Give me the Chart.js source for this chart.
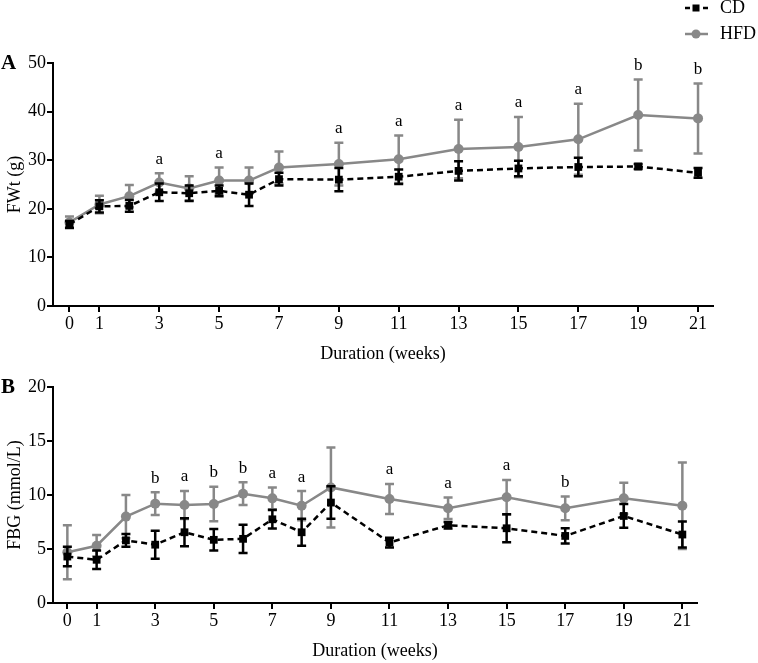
<!DOCTYPE html>
<html>
<head>
<meta charset="utf-8">
<script src="https://cdn.jsdelivr.net/npm/chart.js@4.4.0/dist/chart.umd.min.js"></script>
<style>
  body { margin: 0; background: #fff; }
  #wrap { position: relative; width: 758px; height: 663px; }
  canvas { position: absolute; left: 0; }
</style>
</head>
<body>
<div id="wrap">
  <canvas id="chartA" width="758" height="370" style="top:0"></canvas>
  <canvas id="chartB" width="758" height="293" style="top:370px"></canvas>
</div>
<script>
// week ticks shown on both x axes
const tickWeeks = [0, 1, 3, 5, 7, 9, 11, 13, 15, 17, 19, 21];

// Panel A - body weight (g)
const weeksA = [0, 1, 2, 3, 4, 5, 6, 7, 9, 11, 13, 15, 17, 19, 21];
const cdA = [16.8, 20.5, 20.6, 23.4, 23.2, 23.7, 22.9, 26.1, 26.0, 26.6, 27.8, 28.3, 28.6, 28.7, 27.4];
const cdAErr = [0.7, 1.25, 1.2, 1.8, 1.6, 1.1, 2.3, 1.3, 2.4, 1.5, 2.0, 1.6, 1.9, 0.5, 1.0];
const hfdA = [17.2, 20.9, 22.6, 25.4, 24.2, 25.8, 25.8, 28.5, 29.2, 30.2, 32.3, 32.7, 34.3, 39.3, 38.6];
const hfdAErr = [1.2, 1.8, 2.3, 1.9, 2.5, 2.7, 2.7, 3.3, 4.4, 4.9, 6.0, 6.2, 7.3, 7.3, 7.2];
const marksA = ['', '', '', 'a', '', 'a', '', '', 'a', 'a', 'a', 'a', 'a', 'b', 'b'];

// Panel B - fasting blood glucose (mmol/L)
const weeksB = [0, 1, 2, 3, 4, 5, 6, 7, 8, 9, 11, 13, 15, 17, 19, 21];
const cdB = [4.3, 4.0, 5.8, 5.4, 6.55, 5.85, 5.94, 7.75, 6.55, 9.3, 5.6, 7.2, 6.92, 6.21, 8.06, 6.34];
const cdBErr = [0.9, 0.85, 0.6, 1.3, 1.3, 1.0, 1.3, 0.85, 1.25, 1.5, 0.45, 0.3, 1.3, 0.7, 1.1, 1.2];
const hfdB = [4.7, 5.3, 8.0, 9.2, 9.08, 9.17, 10.12, 9.69, 9.01, 10.7, 9.63, 8.77, 9.79, 8.77, 9.69, 9.01];
const hfdBErr = [2.5, 1.0, 2.0, 1.05, 1.3, 1.6, 1.05, 1.0, 1.35, 3.7, 1.4, 1.0, 1.6, 1.1, 1.45, 4.0];
const marksB = ['', '', '', 'b', 'a', 'b', 'b', 'a', 'a', '', 'a', 'a', 'a', 'b', '', ''];

const SERIF = '"Liberation Serif", "Times New Roman", serif';
const GRAY = '#888888';

// draws the error bars of a dataset just before its line and points
const errorBars = {
    id: 'errorBars',
    beforeDatasetDraw(chart, args) {
        const ds = chart.data.datasets[args.index];
        if (!ds.errors) return;
        const { ctx, scales: { x, y } } = chart;
        ctx.save();
        ctx.strokeStyle = ds.borderColor;
        ctx.lineWidth = 2.5;
        ds.data.forEach((p, i) => {
            const px = x.getPixelForValue(p.x);
            const top = y.getPixelForValue(p.y + ds.errors[i]);
            const bot = y.getPixelForValue(p.y - ds.errors[i]);
            ctx.beginPath();
            ctx.moveTo(px, top); ctx.lineTo(px, bot);
            ctx.moveTo(px - 4.5, top); ctx.lineTo(px + 4.5, top);
            ctx.moveTo(px - 4.5, bot); ctx.lineTo(px + 4.5, bot);
            ctx.stroke();
        });
        ctx.restore();
    },
    afterDatasetsDraw(chart, args, opts) {
        // significance letters above the HFD bars
        const ds = chart.data.datasets[1];
        const { ctx, scales: { x, y } } = chart;
        ctx.save();
        ctx.fillStyle = '#000';
        ctx.font = '17px ' + SERIF;
        ctx.textAlign = 'center';
        ctx.textBaseline = 'middle';
        ds.data.forEach((p, i) => {
            if (!opts.marks[i]) return;
            const top = y.getPixelForValue(p.y + ds.errors[i]);
            ctx.fillText(opts.marks[i], x.getPixelForValue(p.x), top - 14);
        });
        // panel letter
        ctx.font = 'bold 21px ' + SERIF;
        ctx.textAlign = 'left';
        ctx.fillText(opts.letter, 1, chart.chartArea.top + 1);
        ctx.restore();
    }
};

// legend in the top right corner of panel A
const cornerLegend = {
    id: 'cornerLegend',
    afterDraw(chart, args, opts) {
        if (!opts.show) return;
        const ctx = chart.ctx;
        ctx.save();
        ctx.lineWidth = 2.5;
        // CD
        ctx.strokeStyle = '#000';
        ctx.setLineDash([5, 4]);
        ctx.beginPath(); ctx.moveTo(685, 8); ctx.lineTo(708, 8); ctx.stroke();
        ctx.setLineDash([]);
        ctx.fillStyle = '#000';
        ctx.fillRect(692.5, 4.5, 7, 7);
        // HFD
        ctx.strokeStyle = GRAY;
        ctx.beginPath(); ctx.moveTo(685, 34); ctx.lineTo(708, 34); ctx.stroke();
        ctx.fillStyle = GRAY;
        ctx.beginPath(); ctx.arc(696, 34, 4.5, 0, Math.PI * 2); ctx.fill();
        ctx.fillStyle = '#000';
        ctx.font = '18px ' + SERIF;
        ctx.textBaseline = 'middle';
        ctx.fillText('CD', 720, 8);
        ctx.fillText('HFD', 720, 34);
        ctx.restore();
    }
};

function toPoints(weeks, vals) {
    return weeks.map((w, i) => ({ x: w, y: vals[i] }));
}

function makeChart(id, cfg) {
    const axisFont = { family: SERIF, size: 18 };
    return new Chart(document.getElementById(id), {
        type: 'line',
        data: {
            datasets: [{
                label: 'CD',
                data: toPoints(cfg.weeks, cfg.cd),
                errors: cfg.cdErr,
                borderColor: '#000',
                backgroundColor: '#000',
                borderWidth: 2.5,
                borderDash: [6, 4],
                pointStyle: 'rect',
                pointRadius: 5.5,
                pointBorderWidth: 0
            }, {
                label: 'HFD',
                data: toPoints(cfg.weeks, cfg.hfd),
                errors: cfg.hfdErr,
                borderColor: GRAY,
                backgroundColor: GRAY,
                borderWidth: 2.5,
                pointStyle: 'circle',
                pointRadius: 5,
                pointBorderWidth: 0
            }]
        },
        options: {
            responsive: false,
            animation: false,
            clip: false,
            layout: { autoPadding: false, padding: cfg.padding },
            plugins: {
                legend: { display: false },
                tooltip: { enabled: false },
                errorBars: { marks: cfg.marks, letter: cfg.letter },
                cornerLegend: { show: cfg.letter === 'A' }
            },
            scales: {
                x: {
                    type: 'linear',
                    min: cfg.xMin,
                    max: 21.5,
                    afterBuildTicks: s => { s.ticks = tickWeeks.map(v => ({ value: v })); },
                    afterFit: s => { s.height = 60; },
                    grid: { drawOnChartArea: false, drawTicks: true, tickLength: 6, color: '#000', lineWidth: 2 },
                    border: { color: '#000', width: 2 },
                    ticks: { color: '#000', font: axisFont, padding: 1, maxRotation: 0, autoSkip: false },
                    title: { display: true, text: 'Duration (weeks)', color: '#000', font: axisFont, padding: { top: 0, bottom: 1 } }
                },
                y: {
                    min: 0,
                    max: cfg.yMax,
                    afterFit: s => { s.width = 53; },
                    grid: { drawOnChartArea: false, drawTicks: true, tickLength: 6, color: '#000', lineWidth: 2 },
                    border: { color: '#000', width: 2 },
                    ticks: { stepSize: cfg.yStep, color: '#000', font: axisFont, padding: 1 },
                    title: { display: true, text: cfg.yTitle, color: '#000', font: axisFont, padding: { top: 4, bottom: 0 } }
                }
            }
        },
        plugins: [errorBars, cornerLegend]
    });
}

makeChart('chartA', {
    weeks: weeksA, cd: cdA, cdErr: cdAErr, hfd: hfdA, hfdErr: hfdAErr, marks: marksA,
    letter: 'A', yTitle: 'FWt (g)', yMax: 50, yStep: 10, xMin: -0.55,
    padding: { top: 63, left: 0, right: 45, bottom: 4 }
});

makeChart('chartB', {
    weeks: weeksB, cd: cdB, cdErr: cdBErr, hfd: hfdB, hfdErr: hfdBErr, marks: marksB,
    letter: 'B', yTitle: 'FBG (mmol/L)', yMax: 20, yStep: 5, xMin: -0.49,
    padding: { top: 17, left: 0, right: 61, bottom: 0 }
});
</script>
</body>
</html>
